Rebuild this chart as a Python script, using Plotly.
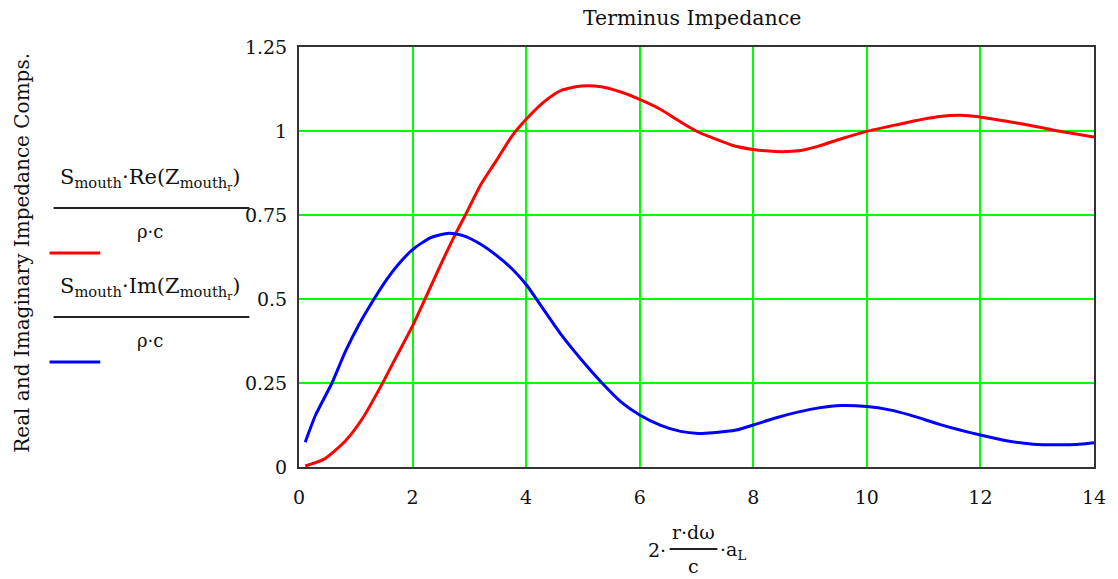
import plotly.graph_objects as go

# ---- data ----
re_x = [0.11, 0.46, 0.82, 1.12, 1.45, 1.71, 2.0, 2.22, 2.49, 2.73, 2.93, 3.2, 3.46, 3.75, 4.0,
        4.33, 4.62, 4.97, 5.32, 5.67, 6.0, 6.37, 6.72, 7.03, 7.29, 7.64, 8.0, 8.39, 8.8, 9.15,
        9.55, 10.0, 10.4, 10.75, 11.28, 11.64, 12.0, 12.46, 12.93, 13.34, 13.69, 14.0]
re_y = [0.003, 0.025, 0.078, 0.145, 0.243, 0.327, 0.42, 0.5, 0.60, 0.685, 0.75, 0.84, 0.908, 0.985,
        1.035, 1.089, 1.121, 1.134, 1.132, 1.116, 1.094, 1.064, 1.027, 0.997, 0.979, 0.957, 0.945,
        0.939, 0.941, 0.955, 0.977, 0.999, 1.014, 1.027, 1.043, 1.047, 1.042, 1.029, 1.015, 1.001,
        0.991, 0.982]

im_x = [0.11, 0.29, 0.58, 0.82, 1.06, 1.30, 1.54, 1.77, 2.0, 2.31, 2.64, 2.90, 3.2, 3.46, 3.75,
        4.0, 4.33, 4.62, 4.97, 5.32, 5.67, 6.0, 6.37, 6.72, 7.03, 7.29, 7.70, 8.0, 8.39, 8.8, 9.15,
        9.55, 10.0, 10.4, 10.75, 11.28, 11.64, 12.0, 12.46, 12.93, 13.34, 13.69, 14.0]
im_y = [0.074, 0.154, 0.25, 0.345, 0.425, 0.494, 0.557, 0.607, 0.647, 0.682, 0.696, 0.688, 0.663, 0.632,
        0.590, 0.543, 0.463, 0.393, 0.320, 0.253, 0.194, 0.155, 0.124, 0.106, 0.100, 0.102, 0.110,
        0.125, 0.146, 0.164, 0.176, 0.183, 0.180, 0.170, 0.155, 0.127, 0.110, 0.095, 0.078, 0.068,
        0.066, 0.067, 0.072]

x_ticks = [0, 2, 4, 6, 8, 10, 12, 14]
x_ticklabels = ["0", "2", "4", "6", "8", "10", "12", "14"]
y_ticks = [0, 0.25, 0.5, 0.75, 1.0, 1.25]
y_ticklabels = ["0", "0.25", "0.5", "0.75", "1", "1.25"]

title_text = "Terminus Impedance"
y_title = "Real and Imaginary Impedance Comps."
re_label = "S<sub>mouth</sub>·Re(Z<sub>mouth<sub>r</sub></sub>)"
im_label = "S<sub>mouth</sub>·Im(Z<sub>mouth<sub>r</sub></sub>)"
denominator = "ρ·c"

# ---- layout geometry ----
W, H = 1118, 579
L, R, T, B = 299, 1099, 47, 467
FONT = "DejaVu Serif"


def px(xp):
    return (xp - L) / (R - L)


def py(yp):
    return (B - yp) / (B - T)


fig = go.Figure()
fig.add_trace(go.Scatter(x=re_x, y=re_y, mode="lines",
                         line=dict(color="#ff0000", width=3, shape="spline", smoothing=0.6),
                         showlegend=False))
fig.add_trace(go.Scatter(x=im_x, y=im_y, mode="lines",
                         line=dict(color="#0000ff", width=3, shape="spline", smoothing=0.6),
                         showlegend=False))

fig.update_layout(
    width=W, height=H, autosize=False,
    margin=dict(l=L, r=W - R, t=T, b=H - B, pad=0),
    paper_bgcolor="white", plot_bgcolor="white",
    font=dict(family=FONT, size=19, color="#111111"),
)
fig.update_xaxes(range=[0, 14], tickvals=x_ticks, ticktext=x_ticklabels,
                 showgrid=True, gridcolor="#00ff00", gridwidth=2, zeroline=False,
                 showline=True, mirror=True, linecolor="#333333", linewidth=2,
                 ticks="", ticklabelstandoff=12, tickfont=dict(family=FONT, size=19))
fig.update_yaxes(range=[0, 1.25], tickvals=y_ticks, ticktext=y_ticklabels,
                 showgrid=True, gridcolor="#00ff00", gridwidth=2, zeroline=False,
                 showline=True, mirror=True, linecolor="#333333", linewidth=2,
                 ticks="", ticklabelstandoff=6, tickfont=dict(family=FONT, size=19))

ann = []
shapes = []


def text(xp, yp, s, size=19, angle=0, xanchor="center"):
    ann.append(dict(x=px(xp), y=py(yp), xref="paper", yref="paper", text=s, showarrow=False,
                    xanchor=xanchor, yanchor="middle", textangle=angle,
                    font=dict(family=FONT, size=size, color="#111111")))


def hline(x0, x1, yp, color="#222222", width=2):
    shapes.append(dict(type="line", xref="paper", yref="paper", x0=px(x0), x1=px(x1),
                       y0=py(yp), y1=py(yp), line=dict(color=color, width=width)))


# title
text(694, 18, title_text, size=20.5)
# y axis title
text(20, 253, y_title, size=20)

ann[-1]["textangle"] = -90

# legend entries
text(149, 179, re_label, size=21)
hline(52, 249, 208)
text(149, 231, denominator, size=18)
hline(48, 99, 253, color="#ff0000", width=3)

text(149, 288, im_label, size=21)
hline(52, 249, 317)
text(149, 340, denominator, size=18)
hline(48, 99, 362, color="#0000ff", width=3)

# x axis title: 2 · (r·dω / c) · a_L
text(659, 550, "2·", size=19)
text(696, 532, "r·dω", size=19)
hline(672, 720, 549)
text(696, 566, "c", size=19)
text(721, 550, "·a<sub>L</sub>", size=19, xanchor="left")

fig.update_layout(annotations=ann, shapes=shapes)
fig.write_html("out.html")
